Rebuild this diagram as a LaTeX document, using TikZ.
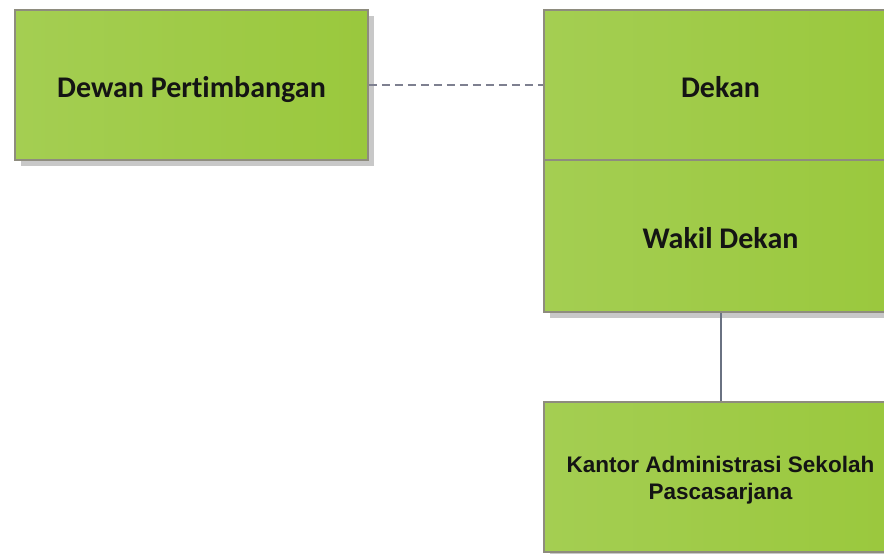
\documentclass[tikz,border=0pt]{standalone}
\usepackage{fontspec}
\setmainfont{Carlito}[Ligatures=NoCommon]
\newfontfamily\arialbold{Liberation Sans}[BoldFont={* Bold}]
\usetikzlibrary{shadows}
\definecolor{boxleft}{HTML}{A4CE52}
\definecolor{boxmid}{HTML}{ABD35F}
\definecolor{boxright}{HTML}{9AC83D}
\definecolor{boxedge}{HTML}{8E8C7E}
\definecolor{shade}{HTML}{C8C8C8}
\definecolor{linkgray}{HTML}{7E8090}
\definecolor{linkblue}{HTML}{6A7282}
\tikzset{
  unitbox/.style={rectangle, draw=boxedge, line width=1.5pt,
    left color=boxleft, middle color=boxmid, right color=boxright,
    minimum width=353pt, minimum height=150pt, inner sep=0pt,
    drop shadow={shadow xshift=6pt, shadow yshift=-6pt, fill=shade, opacity=1}},
  bigtext/.style={font=\bfseries\fontsize{30}{36}\selectfont, text=black!92,
    inner sep=0pt, text height=19.5pt, text depth=0pt, yshift=-2.5pt},
  smalltext/.style={font=\arialbold\bfseries\fontsize{22.5}{27}\selectfont,
    text=black!92, align=center, inner sep=0pt, yshift=-3pt},
  advisory/.style={draw=linkgray, line width=2pt, dash pattern=on 8pt off 5pt},
  reports/.style={draw=linkblue, line width=2pt}
}
\begin{document}
\begin{tikzpicture}[x=1pt, y=-1pt]
  \useasboundingbox (0,0) rectangle (884,554);
  \clip (0,0) rectangle (884,554);
  \fill[white] (0,0) rectangle (884,554);

  % advisory board
  \node[unitbox, label={[bigtext]center:Dewan Pertimbangan}] (dewan) at (191.5,85) {};

  % dean and vice dean, stacked
  \node[unitbox, label={[bigtext]center:Dekan}] (dekan) at (720.5,85) {};
  \node[unitbox, minimum height=152pt, label={[bigtext]center:Wakil Dekan}] (wakil) at (720.5,236) {};

  % graduate school administration office
  \node[unitbox, label={[smalltext]center:Kantor Administrasi Sekolah\\Pascasarjana}] (kantor) at (720.5,477) {};

  % connectors
  \draw[advisory] (dewan.east) -- (dekan.west);
  \draw[reports] (wakil.south) -- (kantor.north);
\end{tikzpicture}
\end{document}
